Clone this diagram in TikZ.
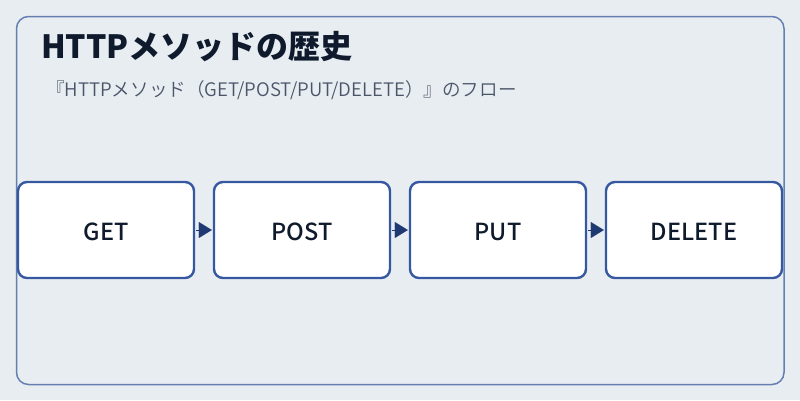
\documentclass[tikz,border=0pt]{standalone}
\usepackage{fontspec}
\setmainfont{Noto Sans CJK JP}
\newfontfamily\jpfont{Noto Sans CJK JP}
\newfontfamily\jpmed{Noto Sans CJK JP Medium}
\newfontfamily\jplight{Noto Sans CJK JP DemiLight}
\usetikzlibrary{arrows.meta}
\definecolor{bgc}{HTML}{E8EDF2}
\definecolor{framec}{HTML}{6480B0}
\definecolor{boxc}{HTML}{3558A0}
\definecolor{arrc}{HTML}{1F3A73}
\definecolor{titlec}{HTML}{0F1B2D}
\definecolor{subc}{HTML}{4A5568}
\begin{document}
\begin{tikzpicture}[x=1pt,y=-1pt,
  stepbox/.style={draw=boxc,line width=2.4pt,fill=white,rounded corners=9pt,
    minimum width=176pt,minimum height=96pt,inner sep=0pt,text height=21pt,text depth=0pt,
    font=\jpmed\fontsize{23.5}{27}\selectfont,text=titlec},
  flow/.style={draw=arrc,line width=0.1pt,-{Triangle[length=13pt,width=16pt]},shorten >=1pt,shorten <=1pt}]
\useasboundingbox (0,0) rectangle (800,400);
\fill[bgc] (0,0) rectangle (800,400);
\draw[framec,line width=1.5pt,rounded corners=12pt] (16.5,16.5) rectangle (784,384.5);
\node[anchor=base west,inner sep=0pt,text=titlec,font=\jpfont\bfseries\fontsize{32}{37}\selectfont] (title) at (41,58) {HTTPメソッドの歴史};
\node[anchor=base west,inner sep=0pt,text=subc,font=\jplight\fontsize{18.6}{22}\selectfont] (sub) at (46,96) {『HTTPメソッド（GET/POST/PUT/DELETE）』のフロー};
\node[stepbox] (get) at (106,230) {GET};
\node[stepbox] (post) at (302,230) {POST};
\node[stepbox] (put) at (498,230) {PUT};
\node[stepbox] (del) at (694,230) {DELETE};
\draw[flow] (get) -- (post);
\draw[flow] (post) -- (put);
\draw[flow] (put) -- (del);
\end{tikzpicture}
\end{document}
